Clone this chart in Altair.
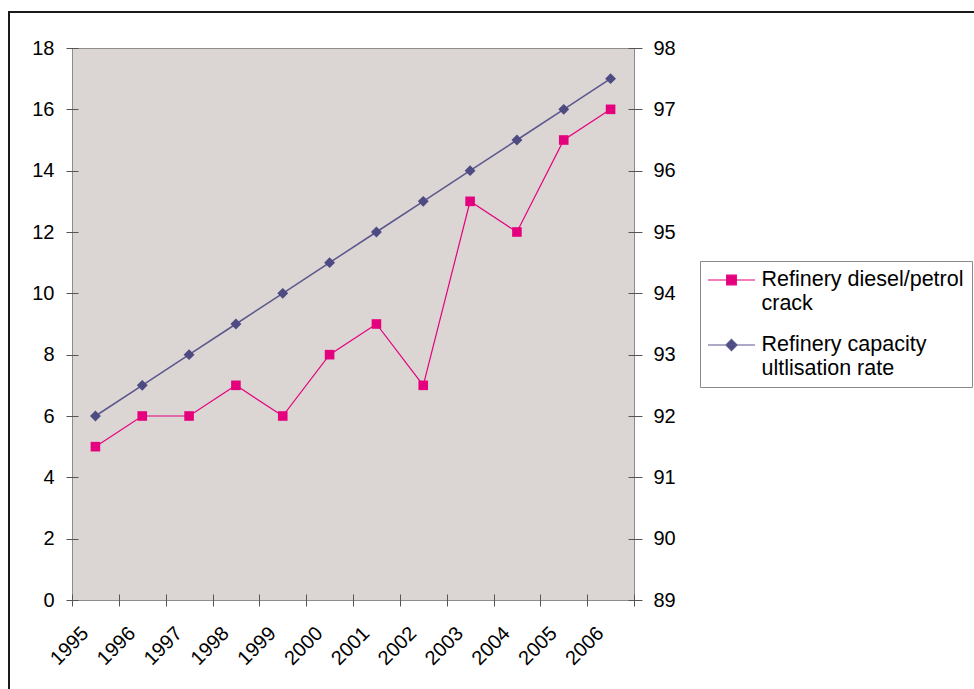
import altair as alt
import pandas as pd

# ---- data ----
years = [1995, 1996, 1997, 1998, 1999, 2000, 2001, 2002, 2003, 2004, 2005, 2006]
crack = [5, 6, 6, 7, 6, 8, 9, 7, 13, 12, 15, 16]
util = [92, 92.5, 93, 93.5, 94, 94.5, 95, 95.5, 96, 96.5, 97, 97.5]
series_names = ["Refinery diesel/petrol crack", "Refinery capacity ultlisation rate"]
series_lines = [["Refinery diesel/petrol", "crack"], ["Refinery capacity", "ultlisation rate"]]
left_ticks = list(range(0, 19, 2))
right_ticks = list(range(89, 99))
x_ticks = list(range(1995, 2008))

PINK = "#E5007D"
PURPLE = "#4E4A82"
PURPLE_LINE = "#5A578C"
FONT = "Liberation Sans"

df = pd.DataFrame({"year": years, "crack": crack, "util": util})
base = alt.Chart(df).transform_calculate(xmid="datum.year + 0.5")

x_enc = alt.X(
    "xmid:Q",
    scale=alt.Scale(domain=[1995, 2007], nice=False, zero=False),
    axis=alt.Axis(
        values=x_ticks, format="d",
        labelExpr="datum.value >= 2007 ? '' : datum.label",
        labelAngle=-45, labelAlign="right", labelBaseline="middle",
        labelOffset=13, labelPadding=24, tickSize=12, offset=-6,
        domain=False, grid=False, title=None,
    ),
)

y_left = alt.Y(
    "crack:Q",
    scale=alt.Scale(domain=[0, 18], nice=False),
    axis=alt.Axis(values=left_ticks, orient="left", offset=-6, tickSize=12,
                  labelPadding=12, domain=False, grid=False, title=None),
)
y_right = alt.Y(
    "util:Q",
    scale=alt.Scale(domain=[89, 98], nice=False, zero=False),
    axis=alt.Axis(values=right_ticks, orient="right", offset=-6, tickSize=14,
                  labelPadding=11, domain=False, grid=False, title=None),
)

pink_layer = alt.layer(
    base.mark_line(color=PINK, strokeWidth=1.2).encode(x=x_enc, y=y_left),
    base.mark_point(shape="square", size=92, filled=True, color=PINK, opacity=1).encode(x=x_enc, y=y_left),
)
purple_layer = alt.layer(
    base.mark_line(color=PURPLE_LINE, strokeWidth=1.5).encode(x=x_enc, y=y_right),
    base.mark_point(shape="diamond", size=118, filled=True, color=PURPLE, opacity=1).encode(x=x_enc, y=y_right),
)

# legend (built from an explicit scale domain; the layer itself draws nothing)
sq_path = "M-2.35,0H2.35M-0.48,-0.48H0.48V0.48H-0.48Z"
dia_path = "M-2.35,0H2.35M0,-0.56L0.56,0L0,0.56L-0.56,0Z"
label_expr = " : ".join(
    f"datum.label == '{n}' ? ['{l[0]}', '{l[1]}']" for n, l in zip(series_names, series_lines)
) + " : datum.label"
legend = alt.Legend(
    orient="none", legendX=628, legendY=213, title=None,
    fillColor="white", strokeColor="#8a8a8a", padding=8,
    symbolSize=400, symbolStrokeWidth=1.2, symbolOffset=12.5,
    labelFont=FONT, labelFontSize=21.5, labelColor="black", labelOffset=19,
    labelLimit=400, rowPadding=20, labelExpr=label_expr,
)
legend_layer = alt.Chart(pd.DataFrame({"series": series_names})).transform_filter("false").mark_point(
    filled=True, opacity=1
).encode(
    x=alt.value(0), y=alt.value(0),
    fill=alt.Fill("series:N", scale=alt.Scale(domain=series_names, range=[PINK, PURPLE]), legend=legend),
    stroke=alt.Stroke("series:N", scale=alt.Scale(domain=series_names, range=[PINK, PURPLE_LINE]), legend=legend),
    shape=alt.Shape("series:N", scale=alt.Scale(domain=series_names, range=[sq_path, dia_path]), legend=legend),
)

# outer frame of the figure
frame = alt.Chart(pd.DataFrame({"a": [0]})).mark_rect(
    fillOpacity=0, stroke="#1a1a1a", strokeWidth=2
).encode(x=alt.value(-63), x2=alt.value(960), y=alt.value(-36), y2=alt.value(700))

chart = alt.layer(frame, pink_layer, purple_layer, legend_layer).resolve_scale(
    y="independent"
).properties(
    width=562, height=552,
    padding={"left": 72, "top": 48, "right": 340, "bottom": 89},
    autosize=alt.AutoSizeParams(type="none"),
    background="white",
).configure_view(
    fill="#DBD5D3", stroke="#8C8C8C", strokeWidth=1
).configure_axis(
    labelFont=FONT, labelFontSize=20, labelColor="black",
    tickColor="#555555", tickWidth=1,
)

chart.save("out.html", embed_options={"renderer": "svg", "actions": False})
